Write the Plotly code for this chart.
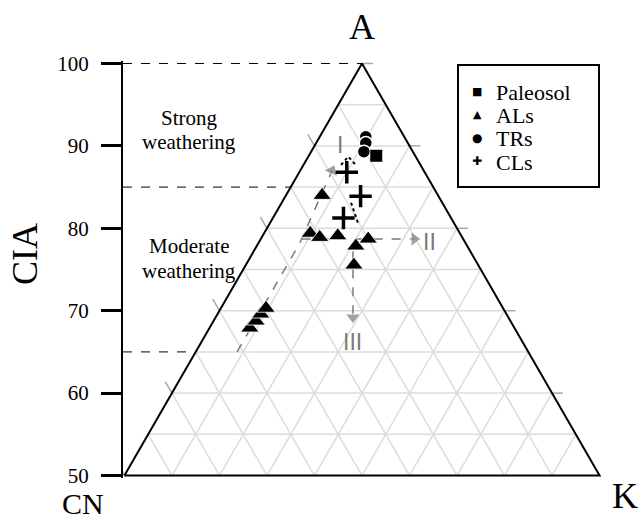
import plotly.graph_objects as go

# ---------------- data (x: position across triangle, CN=0 .. K=100 ; y: CIA) ----------------
cia_ticks = [50, 60, 70, 80, 90, 100]
cia_bounds = [100, 85, 65]

paleosol_x = [53.0]
paleosol_cia = [88.8]

trs_x = [50.8, 50.8, 50.4]
trs_cia = [91.1, 90.35, 89.3]

cls_x = [46.8, 49.7, 46.1]
cls_cia = [86.8, 83.9, 81.25]

als_x = [41.6, 39.1, 41.1, 44.9, 48.7, 51.3, 48.3, 26.4, 27.7, 28.7, 29.8]
als_cia = [84.0, 79.4, 78.9, 79.1, 77.85, 78.7, 75.55, 67.9, 68.75, 69.6, 70.3]

# weathering trends (I, II, III)
trend1_x = [23.7, 36.9, 43.7]
trend1_cia = [65.0, 78.2, 87.0]
trend2_x = [37.3, 61.0]
trend2_cia = [78.7, 78.7]
trend3_x = [48.1, 48.1]
trend3_cia = [77.2, 69.2]
trend_labels = ["I", "II", "III"]
trend_label_x = [45.4, 64.3, 48.1]
trend_label_cia = [90.1, 78.3, 66.2]

# faint dotted guide marks around the CLs
dots_top_x = [45.6, 47.1, 48.5]
dots_top_cia = [87.7, 88.7, 87.8]
dots_mid_x = [47.7, 48.6, 49.3]
dots_mid_cia = [83.1, 81.6, 80.4]

legend_names = ["Paleosol", "ALs", "TRs", "CLs"]
legend_glyphs = ["■", "▲", "●", "✚"]

SERIF = "Liberation Serif, Times New Roman, serif"
GRID = "#dcdcdc"
TICK = "#a8a8a8"
ARROW = "#7a7a7a"

fig = go.Figure()

# ---------------- ternary frame ----------------
n = 10
for i in range(1, n):
    y = 50 + 5 * i
    fig.add_trace(go.Scatter(x=[y - 50, 100 - (y - 50)], y=[y, y], mode="lines",
                             line=dict(color=GRID, width=1.5), hoverinfo="skip", showlegend=False))
    b = 10 * i
    s = (100 - b) / 2
    fig.add_trace(go.Scatter(x=[b, b + s], y=[50, 50 + s], mode="lines",
                             line=dict(color=GRID, width=1.5), hoverinfo="skip", showlegend=False))
    s2 = b / 2
    fig.add_trace(go.Scatter(x=[b, b - s2], y=[50, 50 + s2], mode="lines",
                             line=dict(color=GRID, width=1.5), hoverinfo="skip", showlegend=False))

# edge ticks
for v in cia_ticks:
    if v < 100:
        xe = v - 50
        fig.add_trace(go.Scatter(x=[xe, xe - 1.4], y=[v, v + 1.4], mode="lines",
                                 line=dict(color=TICK, width=1.5), hoverinfo="skip", showlegend=False))
    if v > 50:
        xr = 100 - (v - 50)
        fig.add_trace(go.Scatter(x=[xr, xr + 2.3], y=[v, v], mode="lines",
                                 line=dict(color=TICK, width=1.5), hoverinfo="skip", showlegend=False))

# dashed CIA boundaries
for v in cia_bounds:
    fig.add_trace(go.Scatter(x=[-0.3, v - 50], y=[v, v], mode="lines",
                             line=dict(color="black", width=1, dash="dash"),
                             hoverinfo="skip", showlegend=False))

# triangle outline
fig.add_trace(go.Scatter(x=[0, 50, 100, 0], y=[50, 100, 50, 50], mode="lines",
                         line=dict(color="black", width=2), hoverinfo="skip", showlegend=False))

# ---------------- trend arrows ----------------
for tx, ty in [(trend1_x, trend1_cia), (trend2_x, trend2_cia), (trend3_x, trend3_cia)]:
    fig.add_trace(go.Scatter(x=tx, y=ty, mode="lines",
                             line=dict(color=ARROW, width=1.5, dash="dash"),
                             hoverinfo="skip", showlegend=False))
    fig.add_trace(go.Scatter(x=tx[-2:], y=ty[-2:], mode="markers",
                             marker=dict(symbol="triangle-up", size=[0, 13], color=ARROW,
                                         angleref="previous"),
                             hoverinfo="skip", showlegend=False, cliponaxis=False))
for t, lx, ly in zip(trend_labels, trend_label_x, trend_label_cia):
    fig.add_annotation(x=lx, y=ly, text=t, showarrow=False, xanchor="center", yanchor="middle",
                       font=dict(family="Liberation Sans, Arial, sans-serif", size=23, color=ARROW))

for dx, dy in [(dots_top_x, dots_top_cia), (dots_mid_x, dots_mid_cia)]:
    fig.add_trace(go.Scatter(x=dx, y=dy, mode="lines",
                             line=dict(color="black", width=2, dash="dot"),
                             hoverinfo="skip", showlegend=False))

# ---------------- samples ----------------
fig.add_trace(go.Scatter(x=trs_x, y=trs_cia, mode="markers", showlegend=False, name="TRs",
                         marker=dict(symbol="circle", size=13, color="black",
                                     line=dict(color="white", width=1.5))))
fig.add_trace(go.Scatter(x=als_x, y=als_cia, mode="markers", showlegend=False, name="ALs",
                         marker=dict(symbol="triangle-up", size=16, color="black",
                                     line=dict(color="white", width=0.8))))
fig.add_trace(go.Scatter(x=cls_x, y=cls_cia, mode="markers", showlegend=False, name="CLs",
                         marker=dict(symbol="cross-thin", size=16,
                                     line=dict(color="black", width=3.5))))
fig.add_trace(go.Scatter(x=paleosol_x, y=paleosol_cia, mode="markers", showlegend=False,
                         name="Paleosol",
                         marker=dict(symbol="square", size=12, color="black")))

# ---------------- text ----------------
W, H = 639, 521
L, R, T, B = 123, 38, 61, 43
pw, ph = W - L - R, H - T - B


def px2paper(px, py):
    return (px - L) / pw, (T + ph - py) / ph


def label(txt, px, py, size, family=SERIF, angle=0, xanchor="center", yanchor="middle", pad=1):
    xp, yp = px2paper(px, py)
    fig.add_annotation(x=xp, y=yp, xref="paper", yref="paper", text=txt, showarrow=False,
                       xanchor=xanchor, yanchor=yanchor, textangle=angle, borderpad=pad,
                       font=dict(family=family, size=size, color="black"))


label("A", 362, 27, 36)
label("CN", 83, 521, 30, yanchor="bottom", pad=0)
label("K", 625, 496, 36)
label("CIA", 25, 254, 36, angle=-90)

for txt, py in [("Strong", 118), ("weathering", 142), ("Moderate", 246), ("weathering", 271)]:
    label(txt, 189, py, 21)

# legend box
x0, y0 = px2paper(458, 187)
x1, y1 = px2paper(599, 65)
fig.add_shape(type="rect", xref="paper", yref="paper", x0=x0, y0=y0, x1=x1, y1=y1,
              line=dict(color="black", width=2), fillcolor="white", layer="below")

legend_text_y = [92, 116, 139, 162]
legend_glyph_size = [11, 11, 12, 12]
for name, glyph, py, gs in zip(legend_names, legend_glyphs, legend_text_y, legend_glyph_size):
    label(glyph, 477, py - 1, gs, family="DejaVu Sans")
    label(name, 494, py, 22, xanchor="left")

fig.update_layout(
    width=W, height=H,
    margin=dict(l=L, r=R, t=T, b=B),
    paper_bgcolor="white", plot_bgcolor="white",
    showlegend=False,
    xaxis=dict(range=[-0.3, 100.3], visible=False, fixedrange=True),
    yaxis=dict(range=[49.7, 100.3], tickvals=cia_ticks, ticks="outside", ticklen=20,
               tickwidth=2.5, tickcolor="black", showline=True, linecolor="black",
               linewidth=2, showgrid=False, zeroline=False, ticklabelstandoff=8,
               tickfont=dict(family=SERIF, size=21, color="black"), fixedrange=True),
)

fig.write_html("out.html")
